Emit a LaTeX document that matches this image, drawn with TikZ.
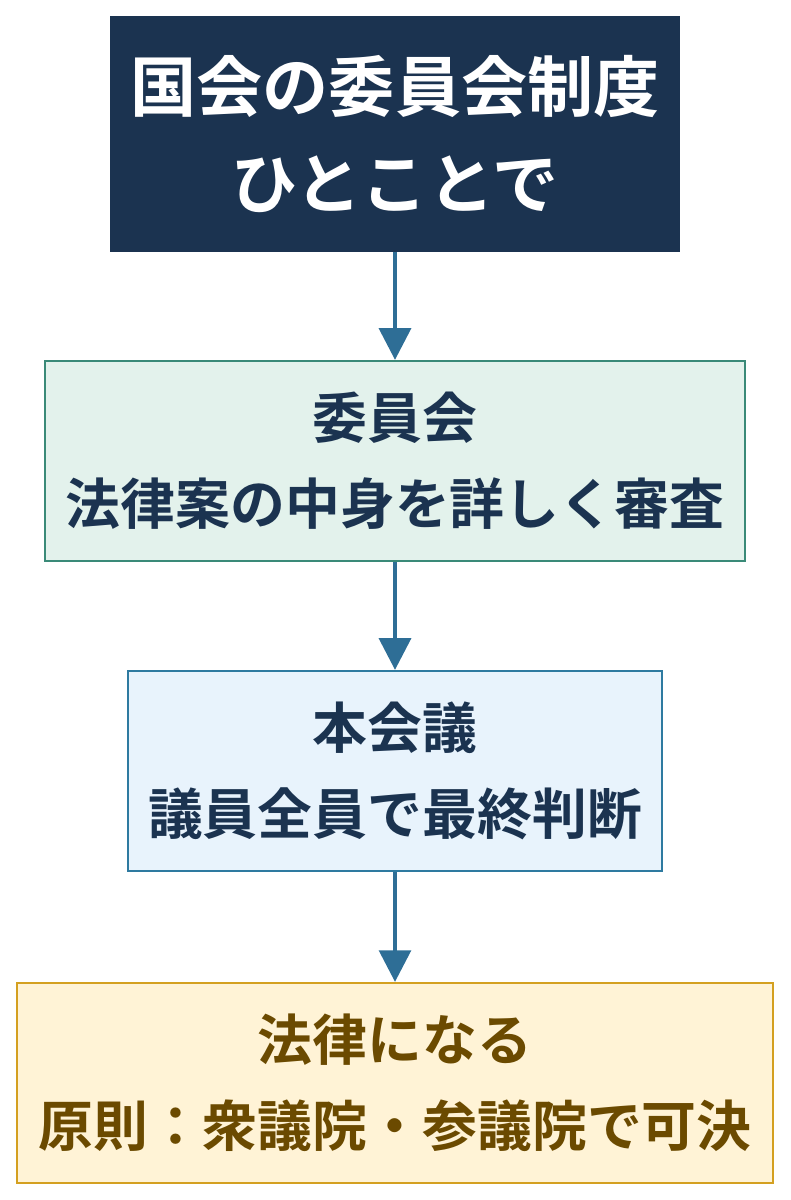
\documentclass[tikz,border=0pt]{standalone}
\usepackage{fontspec}
\setmainfont{Noto Sans CJK JP}[BoldFont={Noto Sans CJK JP Bold}]
\usetikzlibrary{arrows.meta}
\definecolor{navy}{HTML}{1B3350}
\definecolor{arrowblue}{HTML}{2E6E96}
\definecolor{greenfill}{HTML}{E3F2EC}
\definecolor{greenline}{HTML}{3A8A78}
\definecolor{bluefill}{HTML}{E8F3FC}
\definecolor{blueline}{HTML}{2E7AA0}
\definecolor{goldfill}{HTML}{FFF3D6}
\definecolor{goldline}{HTML}{D4A020}
\definecolor{goldtext}{HTML}{6B4A00}
\tikzset{
  box/.style={draw, line width=0.6pt, align=center, inner sep=0pt,
    font=\bfseries\fontsize{15.6pt}{24.5pt}\selectfont},
  flow/.style={-{Triangle[length=9pt,width=9pt]}, line width=1.2pt, draw=arrowblue}
}
\begin{document}
\begin{tikzpicture}[x=0.01cm,y=-0.01cm]
  \useasboundingbox (0,0) rectangle (790,1200);
  \node[box, fill=navy, draw=navy, text=white, minimum width=5.68cm, minimum height=2.34cm,
    font=\bfseries\fontsize{18.8pt}{27.5pt}\selectfont] (title) at (395,134)
    {国会の委員会制度\\ひとことで};
  \node[box, fill=greenfill, draw=greenline, text=navy, minimum width=7cm, minimum height=2cm]
    (iinkai) at (395,461) {委員会\\法律案の中身を詳しく審査};
  \node[box, fill=bluefill, draw=blueline, text=navy, minimum width=5.33cm, minimum height=2cm]
    (honkaigi) at (395,771) {本会議\\議員全員で最終判断};
  \node[box, fill=goldfill, draw=goldline, text=goldtext, minimum width=7.56cm, minimum height=2cm]
    (houritsu) at (395,1083) {法律になる\\原則：衆議院・参議院で可決};
  \draw[flow] (title) -- (iinkai);
  \draw[flow] (iinkai) -- (honkaigi);
  \draw[flow] (honkaigi) -- (houritsu);
\end{tikzpicture}
\end{document}
